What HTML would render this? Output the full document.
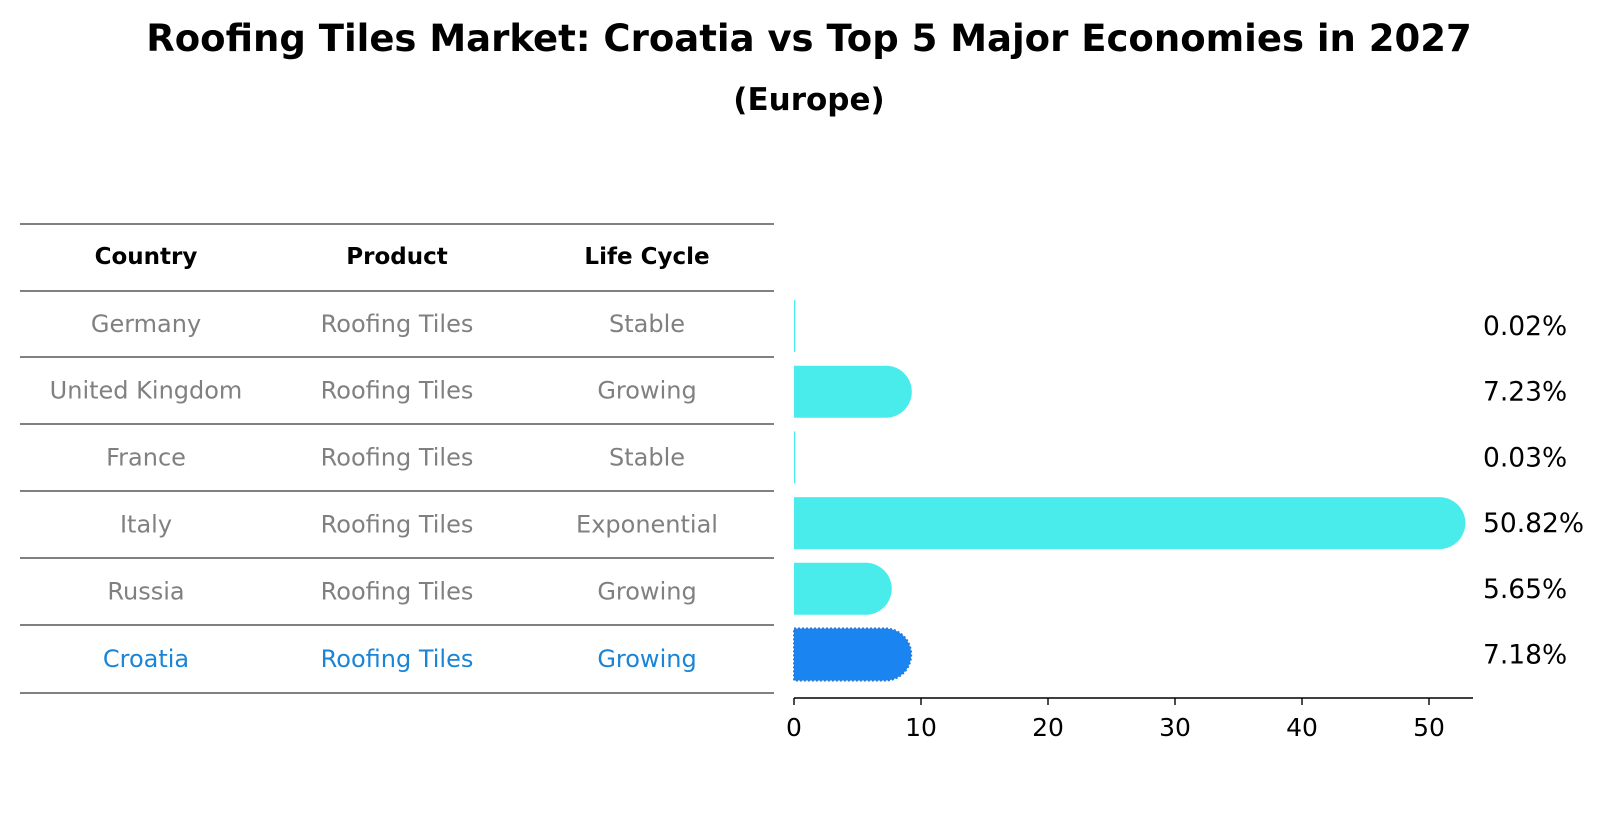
<!DOCTYPE html>
<html><head><meta charset="utf-8"><style>
body{margin:0;background:#fff;font-family:"Liberation Sans","DejaVu Sans",sans-serif;}
svg text{font-family:"DejaVu Sans","Liberation Sans",sans-serif;}
</style></head><body>
<svg id="chart" width="1604" height="823" xmlns="http://www.w3.org/2000/svg">
<text x="809" y="51" text-anchor="middle" font-size="37" font-weight="bold">Roofing Tiles Market: Croatia vs Top 5 Major Economies in 2027</text>
<text x="809" y="110" text-anchor="middle" font-size="31" font-weight="bold">(Europe)</text>
<g id="table"></g>
<g id="bars"></g>
</svg>
<script>
const countries=["Germany","United Kingdom","France","Italy","Russia","Croatia"];
const products=["Roofing Tiles","Roofing Tiles","Roofing Tiles","Roofing Tiles","Roofing Tiles","Roofing Tiles"];
const lifeCycles=["Stable","Growing","Stable","Exponential","Growing","Growing"];
const shares=[0.02,7.23,0.03,50.82,5.65,7.18];
const tickValues=[0,10,20,30,40,50];

const NS="http://www.w3.org/2000/svg";
function mk(tag,attrs,parent,txt){const e=document.createElementNS(NS,tag);for(const k in attrs)e.setAttribute(k,attrs[k]);if(txt!==undefined)e.textContent=txt;parent.appendChild(e);return e;}
const table=document.getElementById('table');
const bars=document.getElementById('bars');
const lineYs=[224,291,357,424,491,558,625,693];
const colX=[146,397,647];
const rowY=i=>326+i*65.7;
const xScale=v=>794+v*12.7;

lineYs.forEach((y,i)=>{const l=mk('line',{x1:20,x2:774,y1:y,y2:y,stroke:'#000','stroke-width':1},table);

});
["Country","Product","Life Cycle"].forEach((h,j)=>{const t=mk('text',{x:colX[j],y:264,'text-anchor':'middle','font-size':23,'font-weight':'bold'},table,h);

});
countries.forEach((c,i)=>{
  const col=i===countries.length-1?'#1a85d6':'#808080';
  const y=(lineYs[i+1]+lineYs[i+2])/2+8;
  [c,products[i],lifeCycles[i]].forEach((v,j)=>{const t=mk('text',{x:colX[j],y:y,'text-anchor':'middle','font-size':24,fill:col},table,v);
  
  });
});
const h=52;
shares.forEach((v,i)=>{
  const cy=rowY(i);const x0=xScale(0);const x1=xScale(v);
  const isC=i===shares.length-1;const fill=isC?'#1a85f0':'#4aeceb';
  const g=mk('g',{},bars);
  
  
  if(v<0.5){mk('rect',{x:x0,y:cy-h/2,width:1.2,height:h,fill:fill},g);}
  else{
    const r=h/2;
    mk('path',{d:`M${x0},${cy-r} L${x1},${cy-r} A${r},${r} 0 0 1 ${x1},${cy+r} L${x0},${cy+r} Z`,fill:fill,stroke:isC?'#2a78d8':'none','stroke-width':isC?2:0,'stroke-dasharray':isC?'2,2':'none'},g);
  }
  const t=mk('text',{x:1483,y:cy+9,'font-size':26.5},bars,v.toFixed(2)+'%');
  
  
});
const ax=mk('line',{x1:794,x2:1473,y1:698,y2:698,stroke:'#000','stroke-width':1.4},bars);


tickValues.forEach(v=>{const x=xScale(v);
  const tk=mk('line',{x1:x,x2:x,y1:698,y2:705,stroke:'#000','stroke-width':1.4},bars);
  
  
  const t=mk('text',{x:x,y:736,'text-anchor':'middle','font-size':25},bars,String(v));
  
  });
</script>
</body></html>
